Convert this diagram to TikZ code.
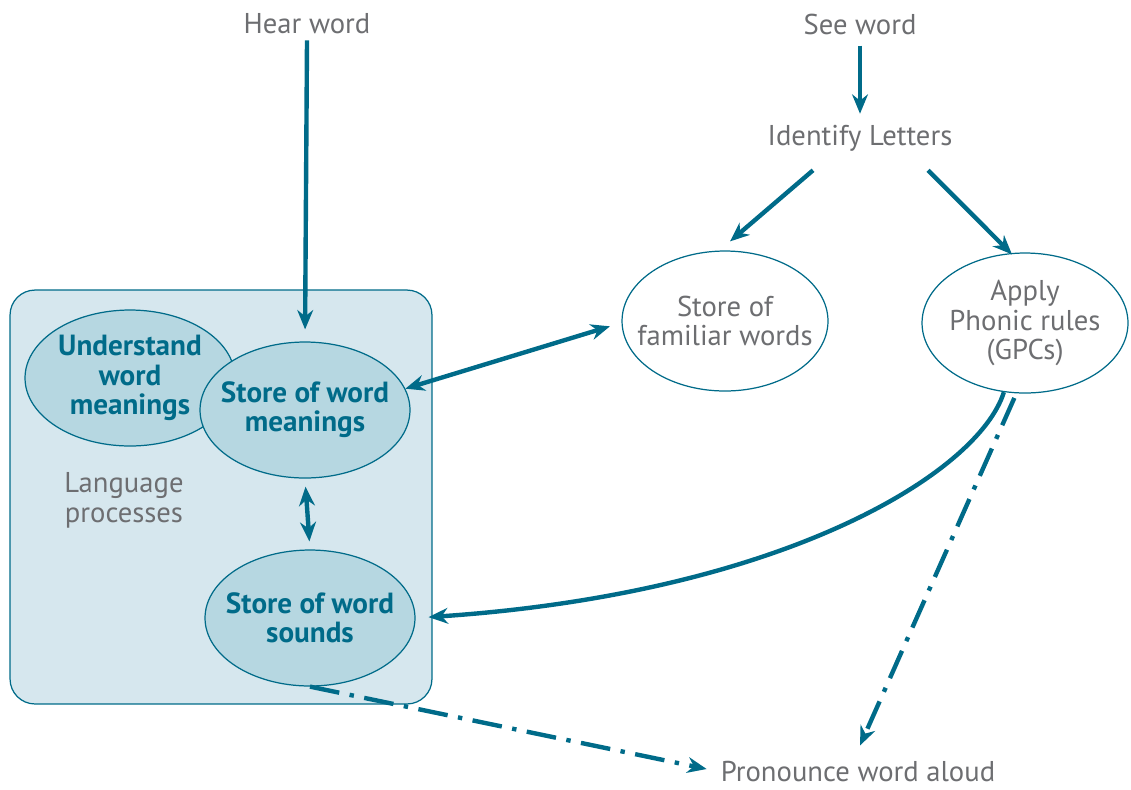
\documentclass[tikz,border=0pt]{standalone}
\usepackage{fontspec}
\setmainfont{PT Sans}
\usetikzlibrary{arrows.meta,shapes.geometric,calc}

\definecolor{linkteal}{HTML}{006B89}
\definecolor{labelgrey}{HTML}{6D6E71}
\definecolor{boxfill}{HTML}{D6E7EE}
\definecolor{storefill}{HTML}{B6D7E1}

\tikzset{
  wordtext/.style={text=labelgrey, font=\fontsize{16.3}{17}\selectfont, align=center},
  store/.style={ellipse, draw=linkteal, line width=0.7pt, fill=storefill,
    minimum width=4.2cm, minimum height=2.72cm, inner sep=-0.4cm, align=center,
    text=linkteal, font=\bfseries\fontsize{16.6}{16.6}\selectfont},
  plainstore/.style={store, fill=white, text=labelgrey, font=\fontsize{16.3}{17}\selectfont,
    minimum width=4.12cm, minimum height=2.8cm},
  link/.style={draw=linkteal, line width=2.5pt, -{Stealth[length=11pt,width=9pt]}},
  bothlink/.style={link, {Stealth[length=11pt,width=9pt]}-{Stealth[length=11pt,width=9pt]}},
  soundlink/.style={link, dash pattern=on 17pt off 6pt on 2.5pt off 6pt},
}

\begin{document}
\begin{tikzpicture}[x=0.02cm, y=-0.02cm]

\useasboundingbox (0,0) rectangle (1131,789);

% language box
\node[draw=linkteal, line width=0.7pt, fill=boxfill, rounded corners=0.5cm,
  minimum width=8.44cm, minimum height=8.28cm] (langbox) at (221,497) {};

\node[store] (understand) at (130,378) {Understand\\word\\meanings};
\node[store] (meanings) at (305,410) {Store of word\\meanings};
\node[store] (sounds) at (310,618) {Store of word\\sounds};
\node[wordtext] (langtext) at (124,500) {Language\\processes};

% top labels
\node[wordtext] (hear) at (307,24) {Hear word};
\node[wordtext] (see) at (860,24) {See word};
\node[wordtext] (identify) at (860,138) {Identify Letters};
\node[wordtext] (pronounce) at (858,772) {Pronounce word aloud};

\node[plainstore] (familiar) at (725,321) {Store of\\familiar words};
\node[plainstore] (apply) at (1025,323) {Apply\\Phonic rules\\(GPCs)};

% arrows
\draw[link, shorten >=0.24cm] (hear.south) -- (meanings.north);
\draw[link, shorten <=0.1cm, shorten >=0.1cm] (see.south) -- (identify.north);
\draw[link] ($(identify.south)+(-47,13)$) -- ($(familiar.north)+(5,-9)$);
\draw[link] ($(identify.south)+(68,13)$) -- ($(apply.north)+(-13,2)$);
\draw[bothlink, shorten >=0.24cm] (meanings.12) -- (familiar.181);
\draw[bothlink, shorten <=0.16cm, shorten >=0.16cm] (meanings.south) -- (sounds.north);

\draw[link, shorten >=0.26cm] (apply.-107) .. controls +(-25,80) and +(370,-25) .. (sounds.east);

\draw[soundlink, shorten <=0.1cm] (apply.-97) -- ($(pronounce.north)+(2,-10)$);
\draw[soundlink] (sounds.south) -- ($(pronounce.west)+(-8,-3)$);

\end{tikzpicture}
\end{document}
